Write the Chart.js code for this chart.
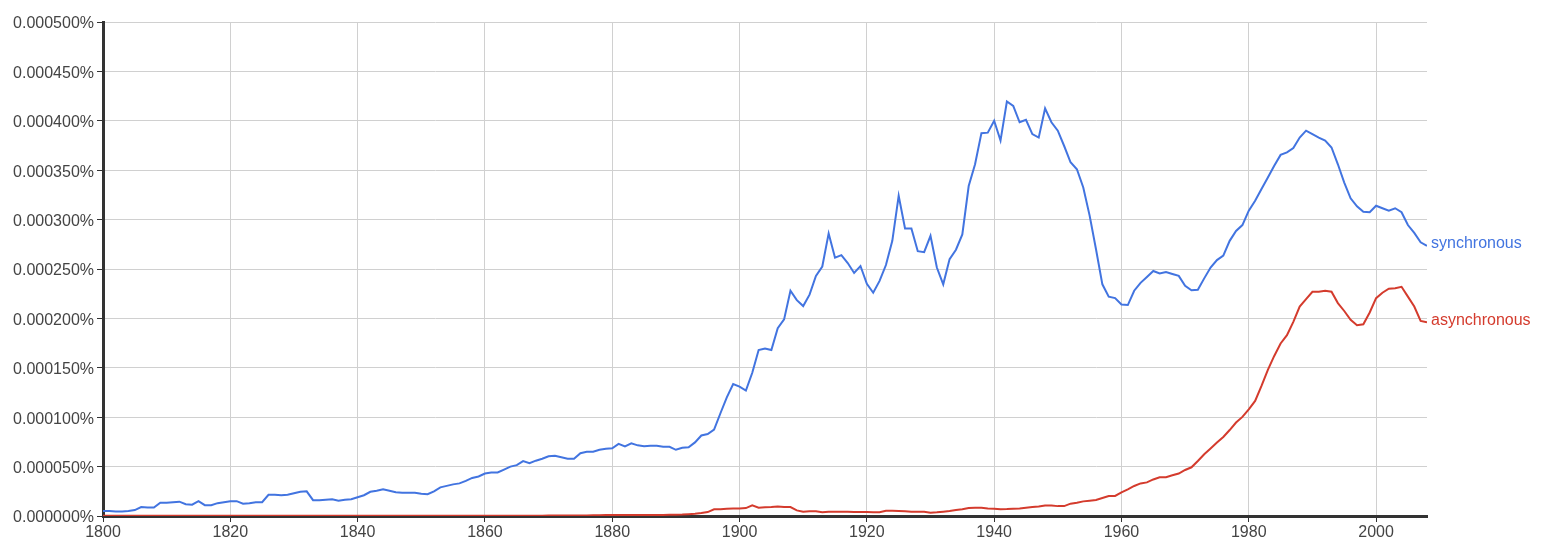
<!DOCTYPE html>
<html>
<head>
<meta charset="utf-8">
<script src="https://cdn.jsdelivr.net/npm/chart.js@4.4.1/dist/chart.umd.min.js"></script>
<style>
  html, body { margin: 0; padding: 0; background: #fff; }
  #wrap { width: 1542px; height: 551px; position: relative; }
</style>
</head>
<body>
<div id="wrap"><canvas id="ngram"></canvas></div>
<script>
// values in millionths of a percent (so 100 -> 0.000100%), one per year 1800..2008
const firstYear = 1800
const lastYear = 2008

const synchronous = [
  5, 5, 4.5, 4.5, 5, 6, 9, 8.5, 8.5, 13.5,
  13.5, 14, 14.5, 12, 11.5, 15, 11, 11, 13, 14,
  15, 15, 12.5, 13, 14, 14, 21.5, 21.5, 21, 21.5,
  23, 24.5, 25, 16, 16, 16.5, 17, 15.5, 16.5, 17,
  19, 21, 24.5, 25.5, 27, 25.5, 24, 23.5, 23.5, 23.5,
  22.5, 22, 25, 29, 30.5, 32, 33, 35.5, 38.5, 40,
  43, 44, 44, 47, 50, 51.5, 55.5, 53.5, 56, 58,
  60.5, 61, 59.5, 58, 58, 63.5, 65, 65, 67, 68,
  68.5, 73, 70.5, 73.5, 71.5, 70.5, 71, 71, 70, 70,
  67, 69, 69.5, 74.5, 81.5, 83, 87.5, 104, 120, 133.5,
  131, 127, 145, 168, 169.5, 168, 190, 199, 228, 218.5,
  212.5, 224, 243, 252.5, 286, 261.5, 264, 256, 246, 253,
  235, 226, 238, 254, 278.5, 324, 291, 291, 268, 267,
  283.5, 251.5, 234.5, 260, 269.5, 285, 334, 356, 387.5, 388,
  400, 380, 419.5, 415, 398.5, 401, 386.5, 383, 412.5, 398.5,
  390, 374.5, 358, 351, 332.5, 304, 270, 234.5, 222, 220.5,
  214, 213.5, 228, 236, 242, 248, 245.5, 247, 245, 243,
  233, 228.5, 229, 240.5, 251.5, 259, 263.5, 278.5, 288.5, 294.5,
  309, 319, 331, 342.5, 354.5, 365.5, 368, 372.5, 383, 390,
  386.5, 383, 380, 373, 356, 337.5, 321.5, 313.5, 308, 307.5,
  314, 311.5, 309, 311.5, 307.5, 294.5, 286.5, 277, 273.5
]

const asynchronous = [
  0.2, 0.2, 0.2, 0.2, 0.2, 0.2, 0.2, 0.2, 0.2, 0.2,
  0.2, 0.2, 0.2, 0.2, 0.2, 0.2, 0.2, 0.2, 0.2, 0.2,
  0.2, 0.2, 0.2, 0.2, 0.2, 0.2, 0.2, 0.2, 0.2, 0.2,
  0.2, 0.2, 0.2, 0.2, 0.2, 0.2, 0.2, 0.2, 0.2, 0.2,
  0.2, 0.2, 0.2, 0.2, 0.2, 0.2, 0.2, 0.2, 0.2, 0.2,
  0.2, 0.2, 0.2, 0.2, 0.2, 0.2, 0.2, 0.2, 0.2, 0.2,
  0.3, 0.3, 0.3, 0.3, 0.3, 0.3, 0.3, 0.3, 0.3, 0.3,
  0.4, 0.4, 0.4, 0.5, 0.5, 0.6, 0.6, 0.7, 0.8, 0.9,
  1.0, 1.0, 1.1, 1.1, 1.0, 1.0, 1.1, 1.1, 1.1, 1.2,
  1.2, 1.4, 1.8, 2.3, 3.0, 4.0, 6.8, 6.8, 7.4, 7.7,
  7.7, 8.0, 10.8, 8.4, 8.8, 9.0, 9.7, 9.0, 9.0, 5.7,
  4.4, 4.7, 4.7, 3.7, 4.4, 4.4, 4.4, 4.4, 4.0, 4.0,
  4.0, 3.7, 3.7, 5.2, 5.4, 5.0, 4.7, 4.4, 4.4, 4.4,
  3.4, 3.7, 4.4, 5.0, 6.0, 6.8, 8.0, 8.4, 8.4, 7.7,
  7.4, 6.8, 7.0, 7.4, 7.7, 8.4, 9.0, 9.7, 10.7, 10.7,
  10.0, 10.0, 12.5, 13.5, 14.8, 15.5, 16.2, 18.2, 20.3, 20.3,
  24, 27, 30.4, 33, 34, 37, 39.2, 39.2, 41.2, 43,
  46.6, 49.3, 55.7, 62.5, 68.3, 74.3, 80, 87, 94.6, 100.3,
  108, 116.5, 131.7, 148, 162, 174.6, 183, 196.5, 212, 219.5,
  227, 227, 228, 227, 215.5, 207.5, 198.5, 193, 194, 206,
  220.5, 226, 230, 230.5, 232, 222, 212, 197.5, 196
]

const seriesNames = ["synchronous", "asynchronous"]
const seriesColors = ["#4274e0", "#d43b2d"]

const years = []
for (let y = firstYear; y <= lastYear; y++) years.push(y)

function toPoints(values) {
  return values.map((v, i) => ({ x: years[i], y: v }))
}

// draws the series name right after the last point of each line
const endLabels = {
  id: 'endLabels',
  afterDatasetsDraw(chart) {
    const c = chart.ctx
    c.save()
    c.font = '16px "Liberation Sans", Arial, sans-serif'
    c.textBaseline = 'middle'
    c.textAlign = 'left'
    chart.data.datasets.forEach((ds, i) => {
      const meta = chart.getDatasetMeta(i)
      const last = meta.data[meta.data.length - 1]
      c.fillStyle = ds.borderColor
      c.fillText(ds.label, last.x + 4, last.y - 2)
    })
    c.restore()
  }
}

const ctx = document.getElementById('ngram')

new Chart(ctx, {
  type: 'line',
  data: {
    datasets: [
      {
        label: seriesNames[0],
        data: toPoints(synchronous),
        borderColor: seriesColors[0],
        borderWidth: 2,
        pointRadius: 0,
        tension: 0
      },
      {
        label: seriesNames[1],
        data: toPoints(asynchronous),
        borderColor: seriesColors[1],
        borderWidth: 2,
        pointRadius: 0,
        tension: 0
      }
    ]
  },
  options: {
    responsive: true,
    maintainAspectRatio: false,
    animation: false,
    layout: { padding: { top: 22, right: 115, left: 0, bottom: 0 } },
    plugins: {
      legend: { display: false },
      tooltip: { enabled: false }
    },
    scales: {
      x: {
        type: 'linear',
        min: firstYear,
        max: lastYear,
        grid: { color: '#d0d0d0', tickColor: '#333', tickLength: 6, lineWidth: 1 },
        border: { color: '#333', width: 3 },
        ticks: {
          stepSize: 20,
          includeBounds: false,
          maxRotation: 0,
          padding: 1,
          color: '#444',
          font: { family: '"Liberation Sans", Arial, sans-serif', size: 16 },
          callback: (v) => String(v)
        },
        afterFit: (scale) => { scale.height = 35 }
      },
      y: {
        min: 0,
        max: 500,
        grid: { color: '#d0d0d0', tickColor: '#333', tickLength: 6, lineWidth: 1 },
        border: { color: '#333', width: 3 },
        ticks: {
          stepSize: 50,
          padding: 3,
          labelOffset: 2,
          color: '#444',
          font: { family: '"Liberation Sans", Arial, sans-serif', size: 16 },
          callback: (v) => (v / 1e6).toFixed(6) + '%'
        },
        afterFit: (scale) => { scale.width = 103 }
      }
    }
  },
  plugins: [endLabels]
})
</script>
</body>
</html>
